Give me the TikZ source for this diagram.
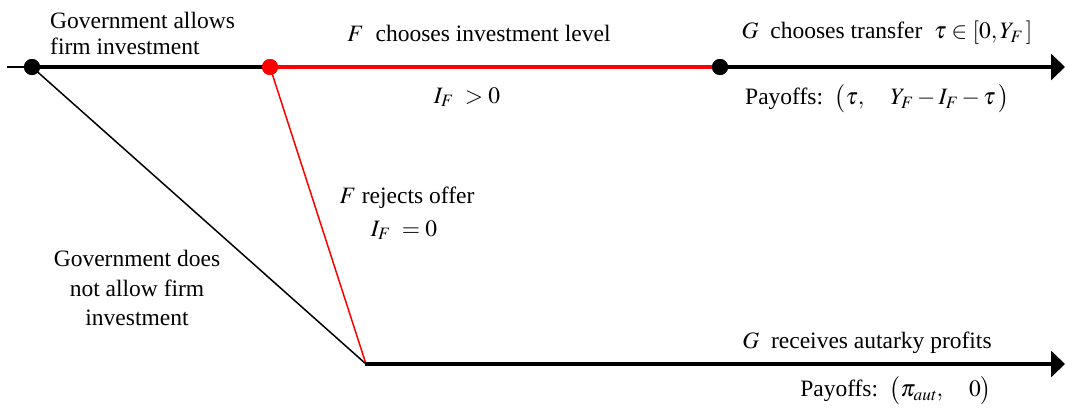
\documentclass[tikz,border=0pt]{standalone}
\usepackage{mathptmx}
\usepackage{fontspec}
\setmainfont{Liberation Serif}
\usetikzlibrary{arrows.meta}
\begin{document}
\begin{tikzpicture}[x=1pt,y=-1pt,
  txt/.style={inner sep=0pt,font=\fontsize{23.5}{26}\selectfont},
  dot/.style={circle,fill=black,inner sep=0pt,minimum size=16pt},
  reddot/.style={circle,fill=red,inner sep=0pt,minimum size=16pt},
  thickline/.style={line width=3.5pt},
  thinline/.style={line width=1.5pt},
  bigarrow/.style={-{Triangle[length=14pt,width=26pt]}}
]
\useasboundingbox (0,0) rectangle (1065,410);
% points
\coordinate (L) at (7,67);
\node[dot] (A) at (32,67) {};
\node[reddot] (B) at (270,67) {};
\node[dot] (C) at (720,67) {};
\coordinate (E) at (1065,67);
\coordinate (D) at (366,364);
\coordinate (E2) at (1065,364);
% lines
\draw[line width=2pt] (L) -- (A.center);
\draw[thickline] (A.center) -- (B.center);
\draw[thickline,red] (B.center) -- (C.center);
\draw[thickline,bigarrow] (C.center) -- (E);
\draw[thinline] (A.center) -- (D);
\draw[thinline,red] (B.center) -- (D);
\draw[thickline,bigarrow] ([xshift=-1pt]D) -- (E2);
% redraw dots on top
\node[dot] at (A) {};
\node[reddot] at (B) {};
\node[dot] at (C) {};
% texts
\node[txt,align=left,anchor=west] (t1) at (50,33) {Government allows\\firm investment};
\node[txt] (t2) at (479,33) {$F$\ \ chooses investment level};
\node[txt] (t3) at (467,97) {$I_{F}\ >0$};
\node[txt] (t4) at (887,33) {$G$\ \ chooses transfer\ \ $\tau\in[0,Y_{F}\,]$};
\node[txt] (t5) at (877,99) {Payoffs:\ \ $\big(\tau,\ \ \ \ Y_{F}-I_{F}-\tau\,\big)$};
\node[txt] (t6) at (407,198) {$F$ rejects offer};
\node[txt] (t7) at (404,230) {$I_{F}\ =0$};
\node[txt,align=center,font=\fontsize{23.5}{29.5}\selectfont] (t8) at (137,288) {Government does\\not allow firm\\investment};
\node[txt] (t9) at (867,343) {$G$\ \ receives autarky profits};
\node[txt] (t10) at (896,391) {Payoffs:\ \ $\big(\pi_{\mathit{aut}},\ \ \ \ 0\big)$};
\end{tikzpicture}
\end{document}
